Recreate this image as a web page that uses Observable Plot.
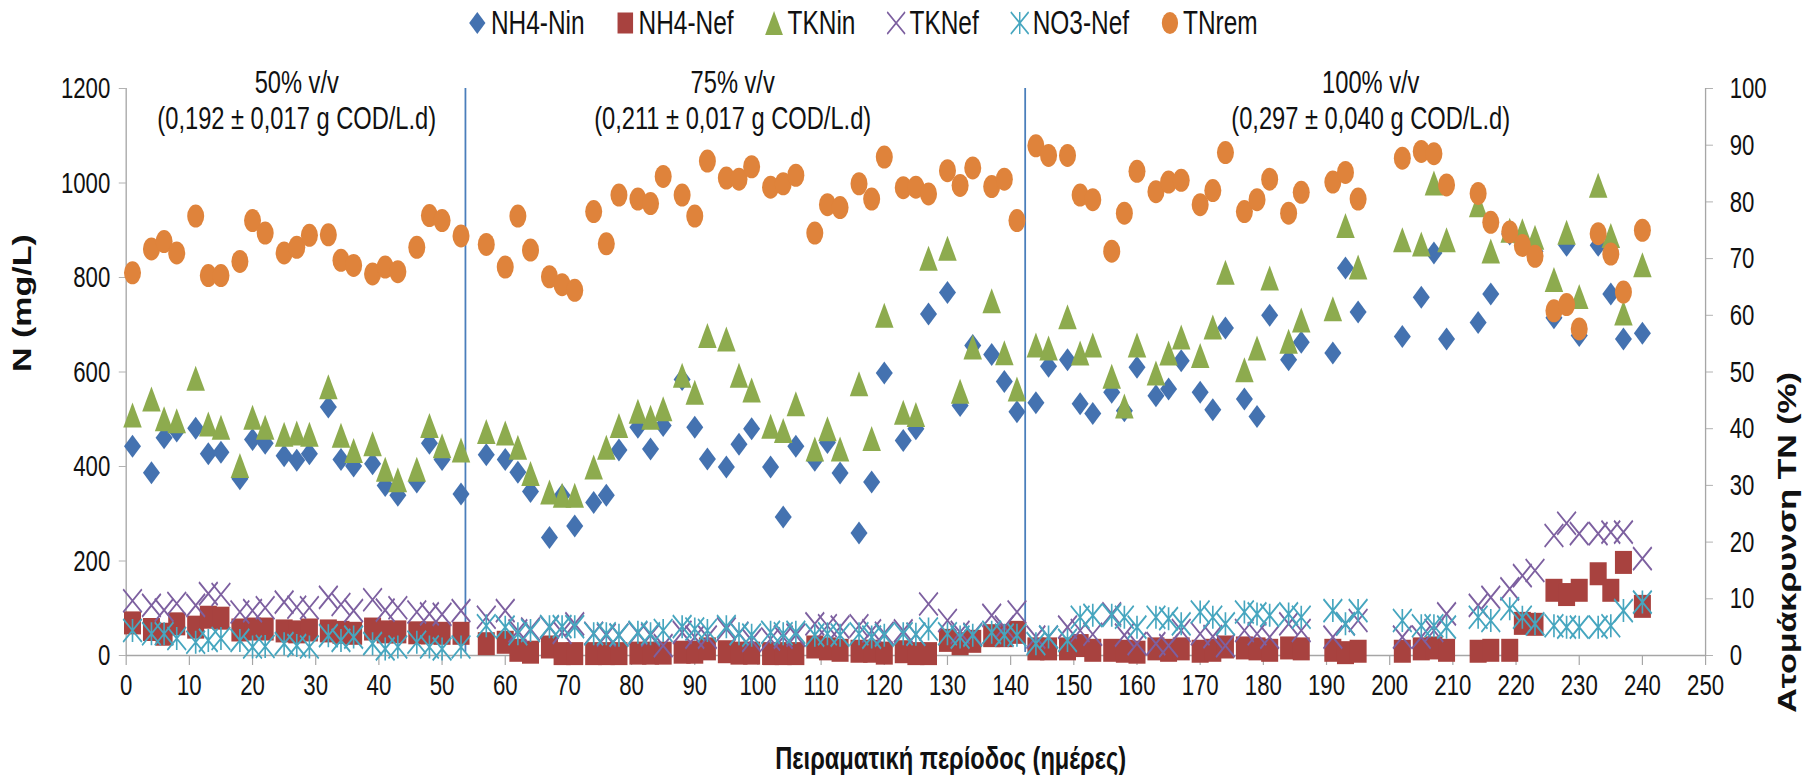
<!DOCTYPE html>
<html>
<head>
<meta charset="utf-8">
<script src="https://cdn.jsdelivr.net/npm/d3@7"></script>
<script src="https://cdn.jsdelivr.net/npm/@observablehq/plot@0.6"></script>
<style>
  html, body { margin: 0; padding: 0; background: #fff; overflow: hidden; }
  body { width: 1814px; height: 775px; font-family: "Liberation Sans", Arial, Helvetica, sans-serif; }
  #legendWrap { position: relative; width: 1814px; height: 46px; overflow: hidden; }
  #legend { position: absolute; left: 0; top: 0; height: 46px; transform-origin: 0 0;
            display: flex; align-items: center; justify-content: center; box-sizing: border-box;
            font-size: 33px; color: #111; }
  .item { display: flex; align-items: center; margin: 0 21px; }
  .item svg { margin-right: 5px; }
  #chart svg { display: block; }
</style>
</head>
<body>
<div id="legendWrap"><div id="legend"></div></div>
<div id="chart"></div>
<script>
// ---------------- data ----------------
const days = [1,4,6,8,11,13,15,18,20,22,25,27,29,32,34,36,39,41,43,46,48,50,53,
  57,60,62,64,67,69,71,74,76,78,81,83,85,88,90,92,95,97,99,102,104,106,109,111,113,116,118,120,123,125,127,130,132,134,137,139,141,
  144,146,149,151,153,156,158,160,163,165,167,170,172,174,177,179,181,184,186,191,193,195,202,205,207,209,214,216,219,221,223,226,228,230,233,235,237,240];

const nh4In = [443,387,461,475,481,427,430,374,457,449,423,413,427,526,415,401,406,360,339,367,449,415,342,
  425,415,388,347,250,339,274,324,339,435,483,437,487,584,483,416,399,447,480,399,293,443,413,451,386,259,367,598,455,480,723,768,529,656,637,580,516,
  535,612,626,533,512,557,518,610,550,564,624,557,520,693,543,506,720,626,663,640,820,727,675,758,852,670,705,765,892,875,855,715,868,677,868,765,670,682];

const nh4Ef = [69,55,45,67,60,81,79,54,56,56,52,50,54,52,49,47,56,50,50,48,48,47,47,
  25,28,11,7,18,4,4,4,4,4,5,5,5,7,7,14,8,5,5,4,4,4,18,14,11,9,9,5,8,4,4,32,25,30,42,42,49,
  14,14,14,21,11,11,9,7,14,11,14,9,11,18,16,14,11,16,14,11,6,9,9,14,16,11,9,11,11,68,66,138,129,138,173,138,197,104];

const tknIn = [509,543,501,497,587,490,483,402,504,483,468,471,468,569,466,434,448,394,372,394,487,444,435,
  474,471,441,385,346,339,339,399,441,487,517,504,522,593,557,677,670,593,562,485,476,533,437,480,437,575,459,720,515,510,841,862,559,653,751,641,564,
  657,651,717,640,657,591,528,657,598,640,674,635,695,811,605,651,799,665,710,734,910,822,880,871,1000,880,954,856,900,899,885,796,896,760,995,889,725,827];

const tknEf = [116,106,96,110,106,131,129,92,95,101,113,102,101,123,108,95,118,96,101,92,88,87,95,
  81,95,52,56,60,49,67,47,43,43,47,43,21,49,39,39,56,47,32,35,39,43,67,63,60,63,52,47,52,45,109,74,49,45,85,60,92,
  39,39,60,53,45,88,43,25,25,21,53,46,40,21,53,46,39,67,53,39,67,74,39,39,53,88,106,123,141,169,180,254,280,258,258,261,261,205];

const no3Ef = [53,46,46,36,28,32,36,32,18,19,25,21,18,42,32,39,25,14,18,28,18,14,18,
  63,60,46,53,61,61,61,46,46,43,49,46,53,61,56,53,61,46,43,49,46,49,43,46,43,46,39,43,46,45,56,46,39,43,49,43,43,
  25,39,32,81,85,85,81,60,81,78,67,92,81,67,92,88,85,88,81,95,67,95,74,63,63,60,81,74,99,81,67,63,60,60,60,63,95,113];

const tnRem = [67.5,71.7,73.0,71.0,77.5,67.0,67.0,69.5,76.7,74.5,71.0,72.0,74.1,74.2,69.7,68.8,67.3,68.5,67.7,72.0,77.6,76.7,74.0,
  72.5,68.5,77.5,71.5,66.8,65.4,64.4,78.3,72.6,81.2,80.5,79.7,84.5,81.2,77.5,87.2,84.2,84.0,86.2,82.6,83.2,84.7,74.5,79.5,79.0,83.2,80.5,87.9,82.5,82.6,81.4,85.5,82.9,86.0,82.7,84.0,76.7,
  89.9,88.2,88.2,81.2,80.4,71.3,78.0,85.4,81.8,83.5,83.8,79.5,82.0,88.7,78.3,80.4,84.0,78.0,81.7,83.5,85.2,80.5,87.7,88.9,88.5,83.0,81.5,76.4,74.7,72.3,70.4,60.8,61.9,57.6,74.4,70.8,64.1,75.0];

const seriesNames = ["NH4-Nin", "NH4-Nef", "TKNin", "TKNef", "NO3-Nef", "TNrem"];
const phaseBounds = [53.7, 142.3];
const phaseCenters = [27, 96, 197];
const phaseNames = ["50% v/v", "75% v/v", "100% v/v"];
const phaseRates = ["(0,192 ± 0,017 g COD/L.d)", "(0,211 ± 0,017 g COD/L.d)", "(0,297 ± 0,040 g COD/L.d)"];
const xTicks = [0,10,20,30,40,50,60,70,80,90,100,110,120,130,140,150,160,170,180,190,200,210,220,230,240,250];
const leftTicks = [0,200,400,600,800,1000,1200];
const rightTicks = [0,10,20,30,40,50,60,70,80,90,100];
const xTitle = "Πειραματική περίοδος (ημέρες)";
const yTitle = "N (mg/L)";
const y2Title = "Ατομάκρυνση ΤΝ (%)";

// ---------------- styling ----------------
const FONT = '"Liberation Sans", Arial, Helvetica, sans-serif';
const K = 0.74;                 // horizontal squeeze of the reference picture
const W = Math.round(1814 / K); // internal (viewBox) width
const H = 729;
const colors = ["#4472B0", "#A8423F", "#8DAB4E", "#7D60A0", "#46A6BF", "#DF833B"];
const Y2K = 12; // 100 % <-> 1200 mg/L

const rad = s => Math.sqrt(s / Math.PI);
const diamond = {draw(c, s) { const r = rad(s); c.moveTo(0, -r); c.lineTo(r, 0); c.lineTo(0, r); c.lineTo(-r, 0); c.closePath(); }};
const square  = {draw(c, s) { const r = rad(s); c.rect(-r, -r, 2 * r, 2 * r); }};
const triangle= {draw(c, s) { const r = rad(s); c.moveTo(0, -r); c.lineTo(r, r); c.lineTo(-r, r); c.closePath(); }};
const cross   = {draw(c, s) { const r = rad(s), w = r * 1.1; c.moveTo(-w, -r); c.lineTo(w, r); c.moveTo(w, -r); c.lineTo(-w, r); }};
const star    = {draw(c, s) { const r = rad(s), w = r * 1.1; c.moveTo(-w, -r); c.lineTo(w, r); c.moveTo(w, -r); c.lineTo(-w, r); c.moveTo(0, -r); c.lineTo(0, r); }};
const circle  = {draw(c, s) { const r = rad(s); c.moveTo(r, 0); c.arc(0, 0, r, 0, 2 * Math.PI); }};
const symbols = [diamond, square, triangle, cross, star, circle];
const filled = [true, true, true, false, false, true];

const rows = days.map((d, i) => ({day: d, nh4In: nh4In[i], nh4Ef: nh4Ef[i], tknIn: tknIn[i], tknEf: tknEf[i], no3Ef: no3Ef[i], tnRem: tnRem[i]}));
const phases = phaseCenters.map((c, i) => ({x: c, name: phaseNames[i], rate: phaseRates[i]}));

const dotOpts = (key, i, r) => filled[i]
  ? {x: "day", y: key, symbol: symbols[i], r, fill: colors[i], stroke: "none"}
  : {x: "day", y: key, symbol: symbols[i], r, fill: "none", stroke: colors[i], strokeWidth: 2.2};

const axisGrey = "#a6a6a6";
const chart = Plot.plot({
  width: W, height: H,
  marginLeft: 170, marginRight: 147, marginTop: 42, marginBottom: 120,
  style: {fontFamily: FONT, fontSize: "30px", color: "#111", background: "#fff"},
  x: {domain: [0, 250]},
  y: {domain: [0, 1200]},
  marks: [
    Plot.ruleX([0, 250], {y1: 0, y2: 1200, stroke: axisGrey, strokeWidth: 1.8}),
    Plot.ruleY([0], {x1: 0, x2: 250, stroke: axisGrey, strokeWidth: 1.4}),
    Plot.axisY({anchor: "left", ticks: leftTicks, tickFormat: v => String(v), tickSize: 9.5, tickPadding: 12, stroke: axisGrey, fill: "#111", fontSize: 30, label: null}),
    Plot.axisY({anchor: "right", ticks: rightTicks.map(v => v * Y2K), tickFormat: v => String(Math.round(v / Y2K)), tickSize: 9.5, tickPadding: 23, stroke: axisGrey, fill: "#111", fontSize: 30, label: null}),
    Plot.axisX({anchor: "bottom", ticks: xTicks, tickFormat: v => String(v), tickSize: 10, tickPadding: 8, stroke: axisGrey, strokeWidth: 1.6, fill: "#111", fontSize: 30, label: null}),
    Plot.ruleX(phaseBounds, {y1: 0, y2: 1200, insetTop: -3, stroke: "#4A7EBB", strokeWidth: 2.4}),
    Plot.dot(rows, dotOpts("nh4In", 0, 11.5)),
    Plot.dot(rows, dotOpts("nh4Ef", 1, 11.5)),
    Plot.dot(rows, dotOpts("tknIn", 2, 12.5)),
    Plot.dot(rows, dotOpts("tknEf", 3, 11.5)),
    Plot.dot(rows, dotOpts("no3Ef", 4, 11.5)),
    Plot.dot(rows, {x: "day", y: d => d.tnRem * Y2K, symbol: circle, r: 11.5, fill: colors[5], stroke: "none"}),
    Plot.text(phases, {x: "x", frameAnchor: "top", dy: -6, text: "name", fontSize: 32, fill: "#111", lineAnchor: "middle"}),
    Plot.text(phases, {x: "x", frameAnchor: "top", dy: 30, text: "rate", fontSize: 32, fill: "#111", lineAnchor: "middle"}),
    Plot.text([yTitle], {text: d => d, frameAnchor: "left", dx: -139, rotate: -90, fontSize: 34, fontWeight: "bold", fill: "#111", lineAnchor: "middle"}),
    Plot.text([y2Title], {text: d => d, frameAnchor: "right", dx: 111, rotate: -90, fontSize: 34, fontWeight: "bold", fill: "#111", lineAnchor: "middle"}),
    Plot.text([xTitle], {text: d => d, frameAnchor: "bottom", dx: 47, dy: 103, fontSize: 32, fontWeight: "bold", fill: "#111", lineAnchor: "middle"})
  ]
});
chart.setAttribute("width", 1814);
chart.setAttribute("height", H);
chart.setAttribute("preserveAspectRatio", "none");
chart.style.maxWidth = "none";
chart.style.width = "1814px";
chart.style.height = H + "px";
document.getElementById("chart").appendChild(chart);

// ---------------- legend (same horizontal squeeze) ----------------
const legend = document.getElementById("legend");
legend.style.width = W + "px";
legend.style.transform = `scaleX(${K})`;
legend.style.paddingRight = "119px";
const legendR = [11, 10.5, 12, 11, 11, 11];
seriesNames.forEach((name, i) => {
  const item = document.createElement("div");
  item.className = "item";
  const s = d3.create("svg").attr("width", 26).attr("height", 28).attr("viewBox", "-13 -14 26 28");
  const p = d3.symbol(symbols[i], legendR[i] * legendR[i] * Math.PI)();
  s.append("path").attr("d", p)
    .attr("fill", filled[i] ? colors[i] : "none")
    .attr("stroke", filled[i] ? "none" : colors[i])
    .attr("stroke-width", 2);
  item.appendChild(s.node());
  const t = document.createElement("span");
  t.textContent = name;
  item.appendChild(t);
  legend.appendChild(item);
});
</script>
</body>
</html>
